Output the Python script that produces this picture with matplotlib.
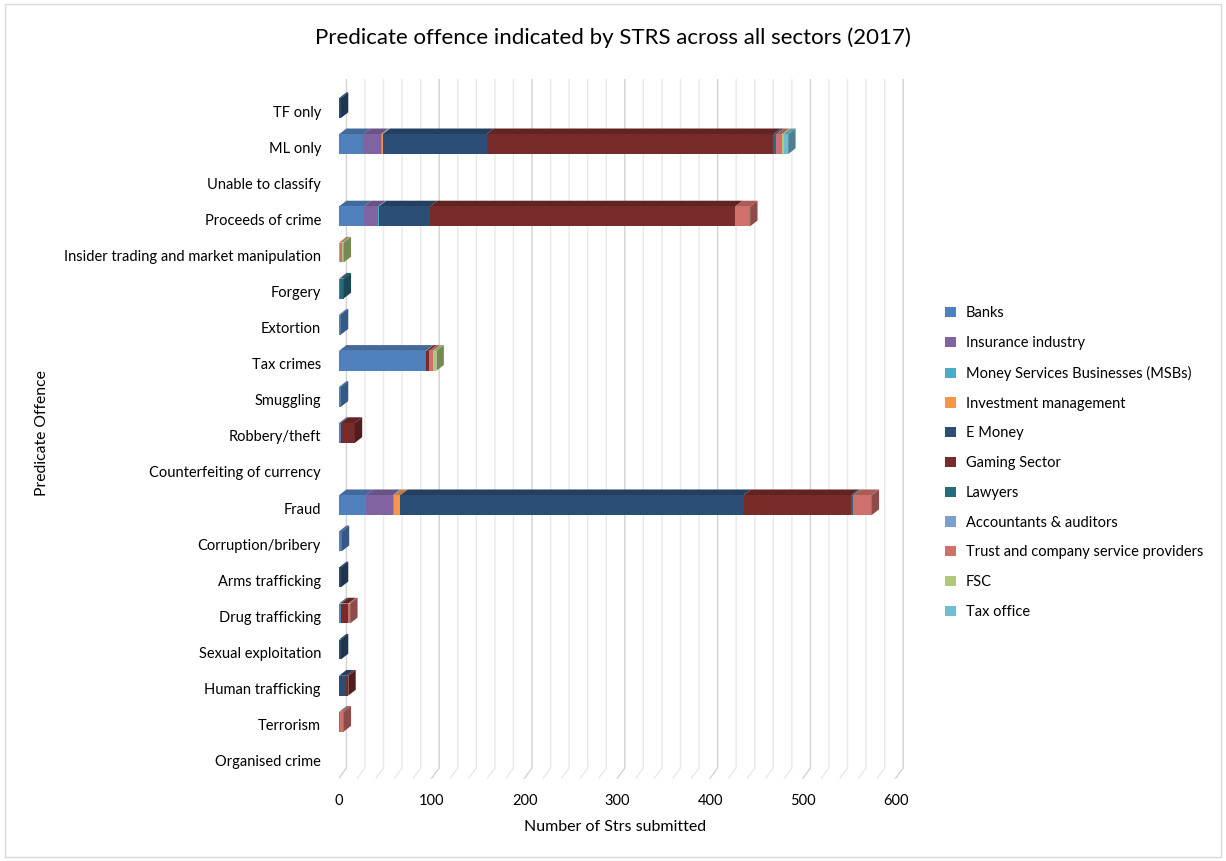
import matplotlib
matplotlib.use('Agg')
import matplotlib.pyplot as plt
import matplotlib.colors as mcolors
from matplotlib.patches import Polygon, Patch, Rectangle
import numpy as np

plt.rcParams['font.family'] = ['Lato', 'DejaVu Sans']

# Predicate offences (top to bottom)
categories = ['TF only', 'ML only', 'Unable to classify', 'Proceeds of crime',
              'Insider trading and market manipulation', 'Forgery', 'Extortion',
              'Tax crimes', 'Smuggling', 'Robbery/theft', 'Counterfeiting of currency',
              'Fraud', 'Corruption/bribery', 'Arms trafficking', 'Drug trafficking',
              'Sexual exploitation', 'Human trafficking', 'Terrorism', 'Organised crime']

# STRs per reporting sector, one value per offence
banks       = [0, 26, 0, 27, 0, 0, 2, 93, 2, 2, 0, 29, 3, 0, 2, 0, 0, 1, 0]
insurance   = [0, 19, 0, 15, 0, 1, 0, 1, 0, 0, 0, 29, 0, 0, 0, 0, 0, 0, 0]
msb         = [0, 1, 0, 1, 0, 0, 0, 0, 0, 0, 0, 1, 0, 0, 0, 0, 0, 0, 0]
investment  = [0, 1, 0, 0, 1, 0, 0, 0, 0, 0, 0, 7, 0, 0, 0, 0, 0, 0, 0]
e_money     = [2, 112, 0, 55, 0, 0, 0, 0, 0, 0, 0, 370, 0, 2, 0, 2, 8, 0, 0]
gaming      = [0, 309, 0, 329, 0, 0, 0, 3, 0, 15, 0, 116, 0, 0, 8, 0, 2, 0, 0]
lawyers     = [0, 3, 0, 0, 0, 4, 0, 0, 0, 0, 0, 2, 0, 0, 0, 0, 0, 0, 0]
accountants = [0, 0, 0, 0, 0, 0, 0, 0, 0, 0, 0, 0, 0, 0, 0, 0, 0, 0, 0]
trust       = [0, 6, 0, 16, 2, 0, 0, 4, 0, 0, 0, 20, 0, 0, 2, 0, 0, 4, 0]
fsc         = [0, 2, 0, 0, 2, 0, 0, 4, 0, 0, 0, 0, 0, 0, 0, 0, 0, 0, 0]
tax_office  = [0, 5, 0, 0, 0, 0, 0, 0, 0, 0, 0, 0, 0, 0, 0, 0, 0, 0, 0]

sectors = ['Banks', 'Insurance industry', 'Money Services Businesses (MSBs)',
           'Investment management', 'E Money', 'Gaming Sector', 'Lawyers',
           'Accountants & auditors', 'Trust and company service providers', 'FSC',
           'Tax office']
series = [banks, insurance, msb, investment, e_money, gaming, lawyers,
          accountants, trust, fsc, tax_office]
colors = ['#4F81BD', '#8064A2', '#4BACC6', '#F79646', '#2C4D75', '#772C2A',
          '#276A7C', '#7D9FCF', '#D0706D', '#AFC97A', '#6FBDD1']


def shade(c, f):
    r, g, b = mcolors.to_rgb(c)
    return (r * f, g * f, b * f)


fig = plt.figure(figsize=(12.26, 8.61), dpi=100)
ax = fig.add_axes([339 / 1226, 0.0871, 580 / 1226, 0.8217])

y = np.arange(len(categories))
h = 0.55          # bar thickness
dx, dy = 8, 0.16  # depth of the 3-D effect (x in data units, y in rows)
shift = -0.08     # bars sit a little above their labels
xmax = 625
ybot_back, ybot_front = 18.2, 18.48

# back wall gridlines with the slanted floor lines
for gx in range(0, 601, 20):
    col = '#D2D2D2' if gx % 100 == 0 else '#E9E9E9'
    ax.plot([gx + dx, gx + dx, gx], [-0.88, ybot_back, ybot_front],
            color=col, lw=1.0, zorder=1, solid_joinstyle='miter')

data = np.array(series, dtype=float)
yb_c = y + shift
left = np.zeros(len(categories))
for vals, col, name in zip(data, colors, sectors):
    ax.barh(yb_c, vals, left=left, height=h, color=col, zorder=3, linewidth=0)
    for i, (l, v) in enumerate(zip(left, vals)):
        if v <= 0:
            continue
        yt = yb_c[i] - h / 2
        top = Polygon([(l, yt), (l + v, yt), (l + v + dx, yt - dy), (l + dx, yt - dy)],
                      closed=True, facecolor=shade(col, 0.82), edgecolor='none', zorder=2.5)
        ax.add_patch(top)
    left += vals

# end faces use the colour of the last sector in each bar
for i in range(len(categories)):
    nz = np.nonzero(data[:, i])[0]
    if len(nz) == 0:
        continue
    col = colors[nz[-1]]
    R = left[i]
    yt, yb = yb_c[i] - h / 2, yb_c[i] + h / 2
    side = Polygon([(R, yt), (R + dx, yt - dy), (R + dx, yb - dy), (R, yb)],
                   closed=True, facecolor=shade(col, 0.68), edgecolor='none', zorder=3.5)
    ax.add_patch(side)

ax.set_xlim(0, xmax)
ax.set_ylim(18.7, -0.9)
ax.set_yticks(y)
ax.set_yticklabels(categories, fontsize=10.5)
ax.set_xticks(range(0, 601, 100))
ax.tick_params(axis='x', length=0, pad=6, labelsize=10.5)
ax.tick_params(axis='y', length=0, pad=13)
for s in ax.spines.values():
    s.set_visible(False)
ax.set_facecolor('none')

fig.text(613 / 1226, 1 - 38 / 861, 'Predicate offence indicated by STRS across all sectors (2017)',
         ha='center', va='center', fontsize=16)
fig.text(42 / 1226, 1 - 433 / 861, 'Predicate Offence', rotation=90,
         ha='center', va='center', fontsize=11.3)
fig.text(615 / 1226, 1 - 827 / 861, 'Number of Strs submitted',
         ha='center', va='center', fontsize=11.5)

handles = [Patch(facecolor=c, edgecolor='none') for c in colors]
fig.legend(handles, sectors, loc='upper left', bbox_to_anchor=(938 / 1226, 1 - 299 / 861),
           frameon=False, fontsize=10.5, borderpad=0, handlelength=0.7, handleheight=0.7,
           handletextpad=0.7, labelspacing=1.08)

fig.patches.append(Rectangle((0.004, 0.005), 0.992, 0.99, transform=fig.transFigure,
                             fill=False, edgecolor='#D9D9D9', lw=1))

fig.savefig('out.png', dpi=100)
